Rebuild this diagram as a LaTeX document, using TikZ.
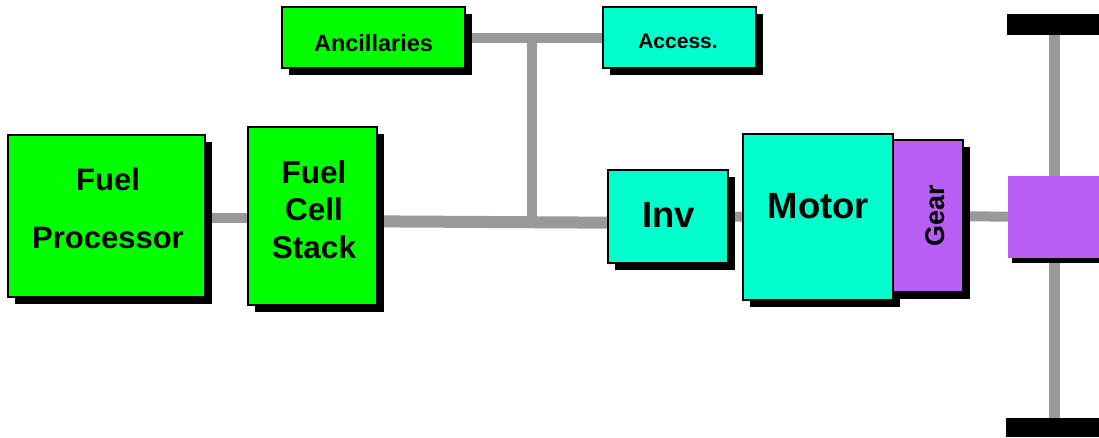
\documentclass[tikz,border=0pt]{standalone}
\usepackage{fontspec}
\setmainfont{Liberation Sans}
\usetikzlibrary{shadows,calc}
\definecolor{grn}{RGB}{0,255,0}
\definecolor{cyn}{RGB}{0,255,204}
\definecolor{pur}{RGB}{183,95,245}
\definecolor{gry}{RGB}{153,153,153}
\pgfdeclarelayer{bg}
\pgfsetlayers{bg,main}
\tikzset{
 blk/.style={draw=black, line width=1.4pt, inner sep=0pt,
   drop shadow={shadow xshift=6.5pt, shadow yshift=-6.5pt, fill=black, opacity=1}},
 lbl/.style={inner sep=0pt, font=\bfseries, align=center},
 conn/.style={draw=gry, line width=10pt},
 bar/.style={fill=black, inner sep=0pt},
}
\begin{document}
\begin{tikzpicture}[x=1pt,y=-1pt]
\useasboundingbox (0,0) rectangle (1099,437);
% boxes
\node[blk, fill=grn, minimum width=183pt, minimum height=61pt] (anc) at (373.5,37.5) {};
\node[blk, fill=cyn, minimum width=153pt, minimum height=61pt] (acc) at (679.5,37.5) {};
\node[blk, fill=grn, minimum width=197pt, minimum height=162pt] (fp) at (106.5,216) {};
\node[blk, fill=grn, minimum width=129pt, minimum height=178pt] (fcs) at (312.5,216) {};
\node[blk, fill=cyn, minimum width=120pt, minimum height=93pt] (inv) at (668,216.5) {};
\node[blk, fill=cyn, minimum width=150pt, minimum height=166pt] (motor) at (818,217) {};
\node[blk, fill=pur, minimum width=70pt, minimum height=152pt] (gear) at (928,216) {};
\node[fill=pur, inner sep=0pt, minimum width=91pt, minimum height=82pt,
  drop shadow={shadow xshift=4pt, shadow yshift=-5pt, fill=black, opacity=1}] (hub) at (1053.5,217) {};
\node[bar, minimum width=92pt, minimum height=21pt] (topbar) at (1053,24.5) {};
\node[bar, minimum width=93pt, minimum height=19pt] (botbar) at (1052.5,427.5) {};
% labels
\node[lbl, font=\fontsize{23.5}{28}\bfseries\selectfont] (ancl) at (373.5,43.5) {Ancillaries};
\node[lbl, font=\fontsize{21}{25}\bfseries\selectfont] (accl) at (678,41) {Access.};
\node[lbl, font=\fontsize{31}{58}\bfseries\selectfont] (fpl) at (108,208) {Fuel\\Processor};
\node[lbl, font=\fontsize{31.5}{37.5}\bfseries\selectfont] (fcsl) at (314,209.5) {Fuel\\Cell\\Stack};
\node[lbl, font=\fontsize{36.5}{40}\bfseries\selectfont] (invl) at (668.5,215) {Inv};
\node[lbl, font=\fontsize{36.5}{40}\bfseries\selectfont] (motorl) at (818.5,206.5) {Motor};
\node[lbl, font=\fontsize{27}{30}\bfseries\selectfont, rotate=90] (gearl) at (935,216) {Gear};
% connectors
\coordinate (j1) at (532,39);
\coordinate (j2) at (532,222);
\begin{pgfonlayer}{bg}
\draw[conn] (anc) -- (acc);
\draw[conn] (j1) -- (j2);
\draw[conn] ([yshift=-2pt]fp.center) -- ([yshift=-2pt]fcs.center);
\draw[conn, line width=12pt] ([yshift=-5pt]fcs.center) -- ([yshift=-6.5pt]inv.center);
\draw[conn] (inv) -- (motor);
\draw[conn] (gear) -- (hub);
\draw[conn, line width=11pt] ([xshift=1.5pt]topbar.center) -- ([xshift=2pt]botbar.center);
\end{pgfonlayer}
\end{tikzpicture}
\end{document}
